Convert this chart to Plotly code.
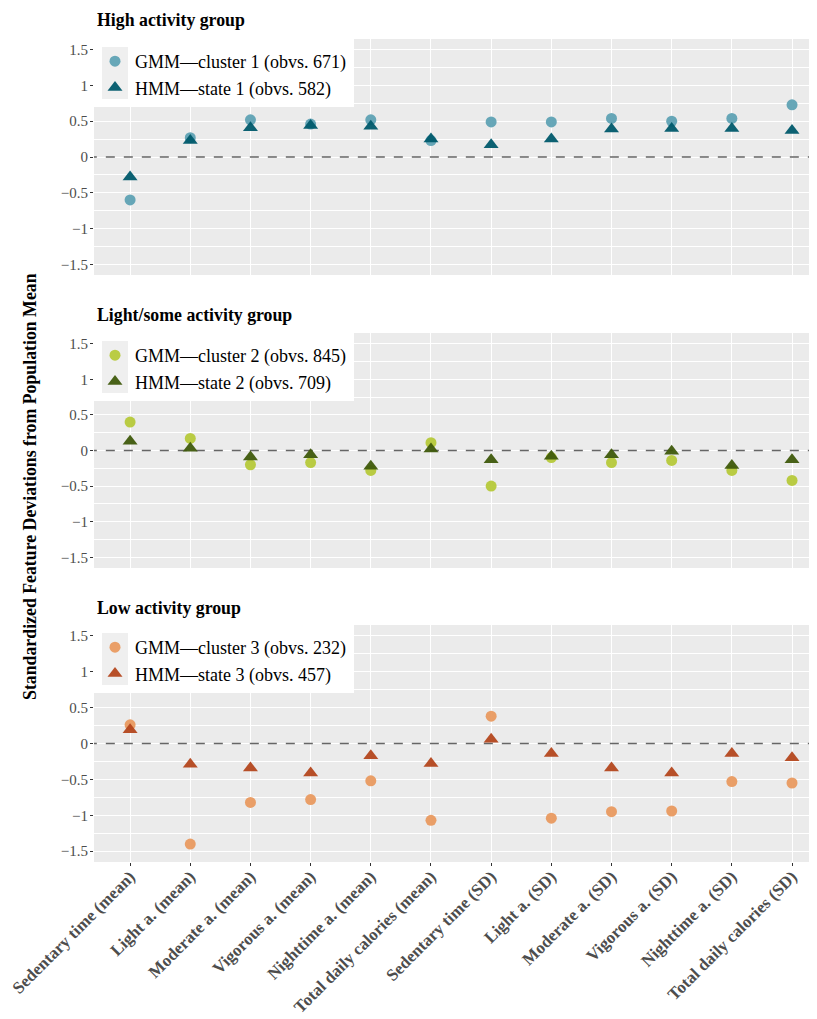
import plotly.graph_objects as go

categories = ["Sedentary time (mean)", "Light a. (mean)", "Moderate a. (mean)",
              "Vigorous a. (mean)", "Nighttime a. (mean)", "Total daily calories (mean)",
              "Sedentary time (SD)", "Light a. (SD)", "Moderate a. (SD)",
              "Vigorous a. (SD)", "Nighttime a. (SD)", "Total daily calories (SD)"]

panel_titles = ["High activity group", "Light/some activity group", "Low activity group"]

gmm_names = ["GMM\u2014cluster 1 (obvs. 671)", "GMM\u2014cluster 2 (obvs. 845)", "GMM\u2014cluster 3 (obvs. 232)"]
hmm_names = ["HMM\u2014state 1 (obvs. 582)", "HMM\u2014state 2 (obvs. 709)", "HMM\u2014state 3 (obvs. 457)"]

gmm_1 = [-0.60, 0.27, 0.52, 0.46, 0.52, 0.23, 0.49, 0.49, 0.54, 0.50, 0.54, 0.73]
hmm_1 = [-0.28, 0.23, 0.41, 0.44, 0.43, 0.25, 0.17, 0.25, 0.39, 0.40, 0.40, 0.37]

gmm_2 = [0.40, 0.17, -0.20, -0.17, -0.28, 0.11, -0.50, -0.10, -0.17, -0.14, -0.28, -0.42]
hmm_2 = [0.13, 0.03, -0.09, -0.06, -0.22, 0.02, -0.13, -0.08, -0.06, -0.01, -0.21, -0.13]

gmm_3 = [0.26, -1.40, -0.82, -0.78, -0.52, -1.07, 0.38, -1.04, -0.95, -0.94, -0.53, -0.55]
hmm_3 = [0.19, -0.29, -0.34, -0.41, -0.17, -0.28, 0.06, -0.14, -0.34, -0.41, -0.14, -0.20]

gmm_colors = ["#5FA2B4", "#B6C93A", "#E99A60"]
hmm_colors = ["#005A6B", "#3F5A0C", "#B4471E"]

gmm_vals = [gmm_1, gmm_2, gmm_3]
hmm_vals = [hmm_1, hmm_2, hmm_3]

# page body has an 8px margin: lay out in reference pixels, shifted by OFF
OFF = 8
W, H = 817 - OFF, 1019 - OFF


def px(x):
    return (x - OFF) / W


def py(y):
    return 1 - (y - OFF) / H


panel_px = [(39, 275), (333, 568), (625, 862)]
title_px = [20, 315, 608]
X_RANGE = [-0.6, 11.415]

SERIF = "Liberation Serif, Times New Roman, serif"

fig = go.Figure()
for i in range(3):
    ax = "" if i == 0 else str(i + 1)
    leg = "legend" if i == 0 else f"legend{i + 1}"
    fig.add_trace(go.Scatter(
        x=categories, y=gmm_vals[i], mode="markers", name=gmm_names[i],
        xaxis="x" + ax, yaxis="y" + ax, legend=leg,
        marker=dict(symbol="circle", size=11, color=gmm_colors[i], opacity=0.95),
    ))
    fig.add_trace(go.Scatter(
        x=categories, y=hmm_vals[i], mode="markers", name=hmm_names[i],
        xaxis="x" + ax, yaxis="y" + ax, legend=leg,
        marker=dict(symbol="triangle-up", size=13, color=hmm_colors[i], opacity=0.95),
    ))

layout = dict(
    width=W, height=H,
    margin=dict(l=0, r=0, t=0, b=0, autoexpand=False),
    paper_bgcolor="white", plot_bgcolor="#EBEBEB",
    font=dict(family=SERIF, color="black"),
    showlegend=True,
)

shapes = []
annotations = []
for i, (top, bot) in enumerate(panel_px):
    ax = "" if i == 0 else str(i + 1)
    last = (i == 2)
    layout["xaxis" + ax] = dict(
        domain=[px(94), 1], anchor="y" + ax, type="category",
        categoryorder="array", categoryarray=categories,
        range=X_RANGE, showgrid=True, gridcolor="white", gridwidth=1.1,
        zeroline=False, showline=False, automargin=False,
        showticklabels=last, ticks="outside" if last else "", ticklen=3,
        tickcolor="#333333", tickwidth=1, tickangle=-45, ticklabelstandoff=-6,
        tickfont=dict(family=SERIF, size=17, color="#4D4D4D", weight="bold"),
        fixedrange=True,
    )
    layout["yaxis" + ax] = dict(
        domain=[py(bot), py(top)], anchor="x" + ax, range=[-1.65, 1.65],
        tick0=0, dtick=0.5, showgrid=True, gridcolor="white", gridwidth=1.1,
        minor=dict(dtick=0.25, tick0=0, showgrid=True, gridcolor="white", gridwidth=0.5),
        zeroline=False, showline=False, automargin=False, ticks="outside", ticklen=3,
        tickcolor="#333333", tickwidth=1, ticklabelstandoff=-1,
        tickfont=dict(family=SERIF, size=15, color="#4D4D4D"),
        fixedrange=True,
    )
    leg = "legend" if i == 0 else f"legend{i + 1}"
    layout[leg] = dict(
        x=px(95), y=py(top + 4), xanchor="left", yanchor="top",
        bgcolor="rgba(0,0,0,0)", borderwidth=0,
        font=dict(family=SERIF, size=18, color="black"),
        traceorder="normal", itemwidth=30,
    )
    # zero reference line (above grid, below markers)
    shapes.append(dict(
        type="line", xref="x" + ax, yref="y" + ax,
        x0=X_RANGE[0] - 1, x1=X_RANGE[1] + 1, y0=0, y1=0,
        line=dict(color="#666666", width=1.3, dash="dash"), layer="between",
    ))
    # legend background box and key background (ggplot style)
    shapes.append(dict(
        type="rect", xref="paper", yref="paper",
        x0=px(94), x1=px(354), y0=py(top + 68), y1=py(top),
        fillcolor="white", line=dict(width=0), layer="above",
    ))
    shapes.append(dict(
        type="rect", xref="paper", yref="paper",
        x0=px(102), x1=px(128), y0=py(top + 60), y1=py(top + 8),
        fillcolor="#EFEFEF", line=dict(width=0), layer="above",
    ))
    annotations.append(dict(
        text=f"<b>{panel_titles[i]}</b>", xref="paper", yref="paper",
        x=px(95), y=py(title_px[i]), xanchor="left", yanchor="middle",
        showarrow=False, font=dict(family=SERIF, size=17.8, color="black"),
    ))

annotations.append(dict(
    text="<b>Standardized Feature Deviations from Population Mean</b>",
    xref="paper", yref="paper", x=px(30), y=py(487), textangle=-90,
    xanchor="center", yanchor="middle", showarrow=False,
    font=dict(family=SERIF, size=17.8, color="black"),
))

layout["shapes"] = shapes
layout["annotations"] = annotations
fig.update_layout(**layout)
fig.write_html("out.html")
